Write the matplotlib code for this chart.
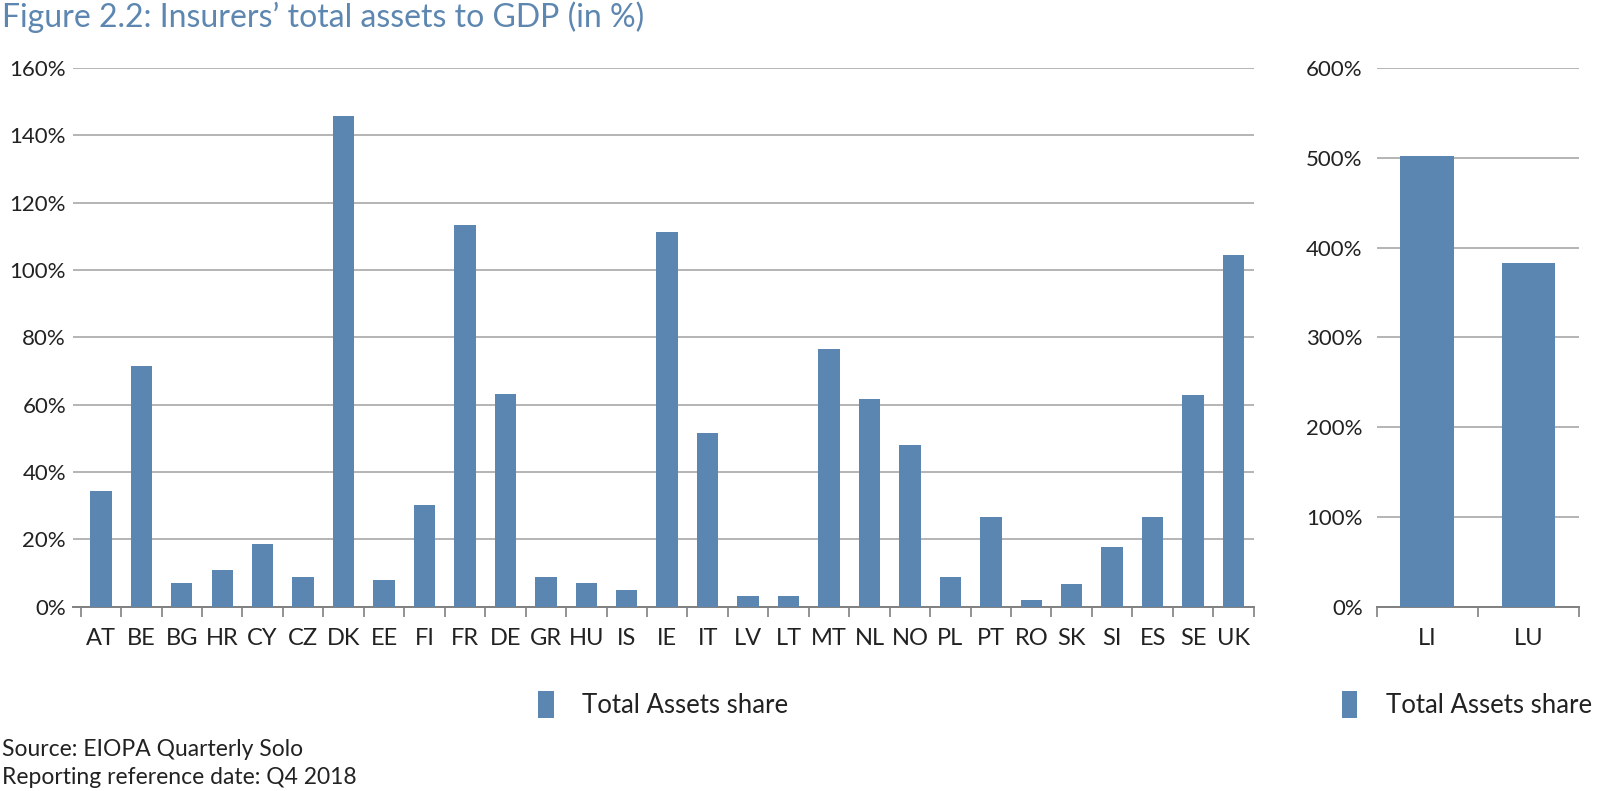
### Insurers' total assets to GDP, two-panel bar chart ###
import matplotlib
matplotlib.use("Agg")
import matplotlib.pyplot as plt
from matplotlib.ticker import FuncFormatter, FixedLocator

plt.rcParams['font.family'] = ['Lato', 'DejaVu Sans']

### DATA ###
countries = ['AT', 'BE', 'BG', 'HR', 'CY', 'CZ', 'DK', 'EE', 'FI', 'FR', 'DE', 'GR',
             'HU', 'IS', 'IE', 'IT', 'LV', 'LT', 'MT', 'NL', 'NO', 'PL', 'PT', 'RO',
             'SK', 'SI', 'ES', 'SE', 'UK']
share = [34.3, 71.5, 7.0, 11.0, 18.6, 8.9, 145.8, 8.0, 30.3, 113.4, 63.3, 8.9,
         7.0, 5.1, 111.3, 51.7, 3.2, 3.1, 76.4, 61.8, 48.1, 8.8, 26.5, 2.0,
         6.8, 17.7, 26.5, 62.8, 104.6]

big_countries = ['LI', 'LU']
big_share = [502, 383]

left_ticks = [0, 20, 40, 60, 80, 100, 120, 140, 160]
right_ticks = [0, 100, 200, 300, 400, 500, 600]

BAR_COLOR = '#5b86b1'
TITLE_COLOR = '#5d87b0'
GRID_COLOR = '#a8a8a8'
AXIS_COLOR = '#808080'
TEXT_COLOR = '#222222'

### FIGURE ###
fig = plt.figure(figsize=(16, 7.91), dpi=100)
ax1 = fig.add_axes([0.0456, 0.2330, 0.738, 0.681])
ax2 = fig.add_axes([0.8604, 0.2330, 0.1266, 0.681])


def style_axis(ax, labels, ticks, left_extra, ypad):
    n = len(labels)
    ax.set_xlim(-0.5 - left_extra, n - 0.5)
    ax.set_ylim(ticks[0], ticks[-1])
    ax.set_yticks(ticks)
    ax.yaxis.set_major_formatter(FuncFormatter(lambda v, p: f'{v:.0f}%'))
    ax.tick_params(axis='y', length=0, pad=ypad, labelsize=16, colors=TEXT_COLOR)
    ax.set_xticks(range(n))
    ax.set_xticklabels(labels)
    ax.tick_params(axis='x', which='major', length=0, pad=15, labelsize=17,
                   colors=TEXT_COLOR)
    ax.xaxis.set_minor_locator(FixedLocator([i - 0.5 for i in range(n + 1)]))
    ax.tick_params(axis='x', which='minor', length=7, width=1.2, color=AXIS_COLOR)
    ax.grid(axis='y', color=GRID_COLOR, linewidth=1.2)
    ax.set_axisbelow(True)
    for s in ['top', 'right', 'left']:
        ax.spines[s].set_visible(False)
    ax.spines['bottom'].set_color(AXIS_COLOR)
    ax.spines['bottom'].set_linewidth(1.4)


### LEFT PANEL ###
ax1.bar(range(len(countries)), share, width=0.53, color=BAR_COLOR,
        label='Total Assets share', zorder=3)
style_axis(ax1, countries, left_ticks, 0.19, 5)

### RIGHT PANEL ###
ax2.bar(range(len(big_countries)), big_share, width=0.53, color=BAR_COLOR,
        label='Total Assets share', zorder=3)
style_axis(ax2, big_countries, right_ticks, 0.0, 10)

### LEGENDS ###
for ax, cx in ((ax1, 0.5), (ax2, 0.445)):
    ax.legend(loc='center', bbox_to_anchor=(cx, -0.182), frameon=False,
              handlelength=0.6, handleheight=1.2, handletextpad=1.1,
              prop={'size': 18.5}, labelcolor=TEXT_COLOR)

### TITLE AND NOTES ###
fig.text(0.001, 0.978, 'Figure 2.2: Insurers\u2019 total assets to GDP (in %)',
         fontsize=23, color=TITLE_COLOR, ha='left', va='center')
fig.text(0.001, 0.052, 'Source: EIOPA Quarterly Solo', fontsize=16.5,
         ha='left', va='center', color=TEXT_COLOR)
fig.text(0.001, 0.017, 'Reporting reference date: Q4 2018', fontsize=16.5,
         ha='left', va='center', color=TEXT_COLOR)

fig.savefig('out.png', dpi=100)
